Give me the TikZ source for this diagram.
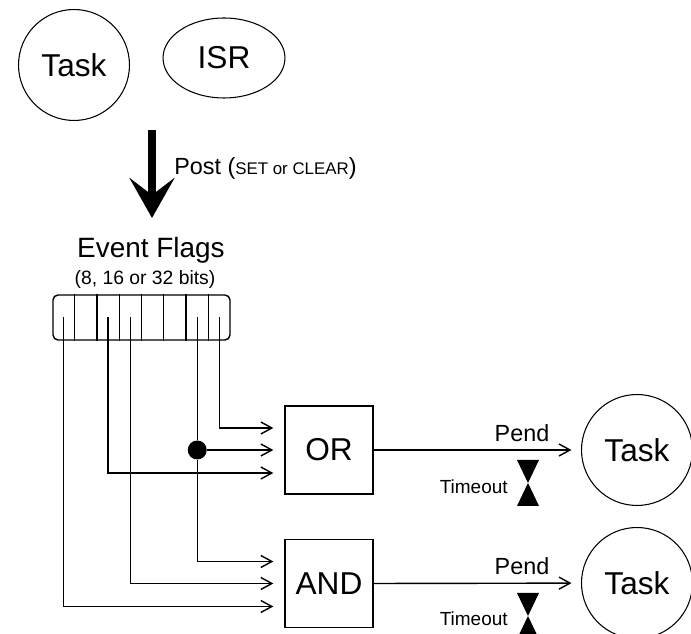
\documentclass[tikz,border=0pt]{standalone}
\usepackage{fontspec}
\setmainfont{Liberation Sans}
\usetikzlibrary{shapes.geometric, arrows.meta, calc}
\tikzstyle{line} = [draw, line width=0.8pt]
\tikzstyle{wire} = [line, ->, shorten >=2.2mm]

\begin{document}
\begin{tikzpicture}[x=0.02cm, y=-0.02cm,
      > = {Straight Barb[length=2.2mm,width=2.4mm]}, % open arrow heads
      font = \fontsize{18}{20}\selectfont
  ]
  \useasboundingbox (0,0) rectangle (691,634);

  \tikzstyle{task}=[
      draw = black,
      circle,
      line width = 0.6pt,
      minimum size = 2.22cm,
      inner sep = 0pt
  ]
  \tikzstyle{gate}=[draw, line width=0.8pt, minimum size=1.76cm, inner sep=0pt]
  \tikzstyle{small}=[font=\fontsize{10.8}{12}\selectfont]
  \tikzstyle{label}=[font=\fontsize{13.3}{15}\selectfont]

  % Who posts to the flags
  \node[task] (src) at (74, 65) {Task};
  \node[draw, ellipse, line width=0.6pt, minimum width=2.44cm, minimum height=1.6cm] (isr) at (224, 58) {ISR};

  \coordinate (postTop) at (152, 130);
  \coordinate (postTip) at (152, 218);
  \draw[line width=4pt, -{Stealth[length=8mm, width=9mm, inset=3.4mm]}] (postTop) -- (postTip);
  \node[anchor=west, label, inner sep=0pt] (post) at (174, 168)
      {Post ({\fontsize{9.6}{11}\selectfont SET or CLEAR})};

  % The flag register
  \node[font=\fontsize{15.9}{18}\selectfont] (flags) at (151, 250) {Event Flags};
  \node[font=\fontsize{11}{13}\selectfont] (bits) at (145, 280) {(8, 16 or 32 bits)};
  \node[draw, line width=0.8pt, rounded corners=1mm, minimum width=3.54cm, minimum height=0.9cm,
      inner sep=0pt] (reg) at (141.5, 317.5) {};
  \foreach \i in {1,...,7}
      \draw[line] ($(reg.north west)!\i/8!(reg.north east)$) -- ($(reg.south west)!\i/8!(reg.south east)$);
  \foreach \i in {1,...,8}
      \coordinate (bit\i) at ($(reg.west)!{(\i-0.5)/8}!(reg.east)$);

  % Gates
  \node[gate] (or) at (329, 450) {OR};
  \node[gate] (and) at (329, 583.5) {AND};
  \node[circle, fill, inner sep=0pt, minimum size=0.38cm] (join) at (bit7 |- or.west) {};

  % Flags into the gates
  \draw[wire] (bit8) |- ($(or.west)+(0,-22)$);
  \draw[wire] (join) -- (or.west);
  \draw[wire] (bit3) |- ($(or.west)+(0,23)$);
  \draw[line] (bit7) -- (join);
  \draw[wire] (join) |- ($(and.west)+(0,-22)$);
  \draw[wire] (bit4) |- (and.west);
  \draw[wire] (bit1) |- ($(and.west)+(0,23)$);

  % Waiting tasks
  \node[task] (waitOr) at (637, 450) {Task};
  \node[task] (waitAnd) at (637, 583) {Task};
  \draw[line, ->, shorten >=1.9mm] (or.east) -- (waitOr);
  \draw[line, ->, shorten >=1.9mm] (and.east) -- (waitAnd);

  \node[label] (pendOr) at (522, 433) {Pend};
  \node[label] (pendAnd) at (522, 566) {Pend};

  % Timeouts
  \node[small, anchor=east, inner sep=0pt] (toOr) at (508, 487) {Timeout};
  \node[small, anchor=east, inner sep=0pt] (toAnd) at (508, 619) {Timeout};
  \foreach \y in {460, 593}
      \fill (517,\y) -- (539,\y) -- (528,\y+23) -- (539,\y+46) -- (517,\y+46) -- (528,\y+23) -- cycle;
\end{tikzpicture}
\end{document}
